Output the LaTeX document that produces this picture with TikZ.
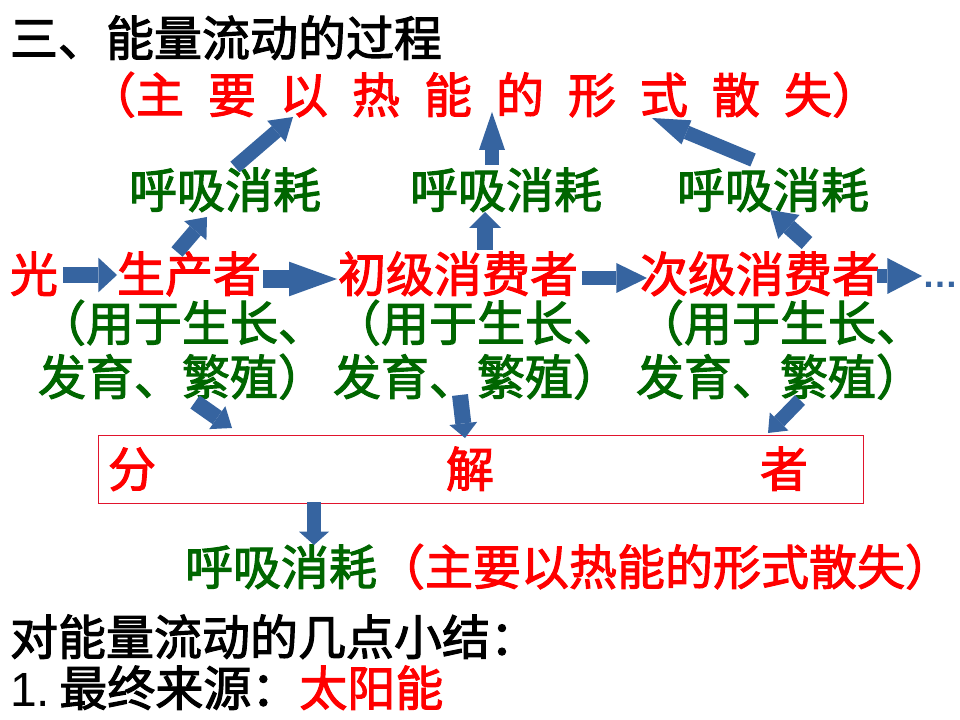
\documentclass[tikz,border=0pt]{standalone}
\usepackage{fontspec}
\setmainfont{Noto Sans CJK SC}[BoldFont=*, BoldFeatures={FakeBold=2.2}]
\newfontfamily\latinfont{Liberation Sans}
\usetikzlibrary{arrows.meta}
\definecolor{cred}{RGB}{255,0,0}
\definecolor{cgreen}{RGB}{0,102,0}
\definecolor{cblue}{RGB}{54,100,160}
\definecolor{cbox}{RGB}{225,20,45}
\tikzset{
  base/.style={inner sep=0pt, outer sep=0pt, font=\fontsize{36pt}{40pt}\selectfont\bfseries},
  ktxt/.style={base, text=black},
  rtxt/.style={base, text=cred},
  gtxt/.style={base, text=cgreen},
  blk/.style n args={3}{draw=cblue, line cap=butt, line width=#1,
    -{Triangle[length=#3, width=#2, line width=0pt]}},
}
\begin{document}
\begin{tikzpicture}[x=0.75pt,y=-0.75pt]
\path[use as bounding box, fill=white] (0,0) rectangle (960,720);

% texts
\node[ktxt, anchor=base west] (title) at (10,56) {三、能量流动的过程};
\node[rtxt, anchor=base west] (heat) at (88,113) {\spaceskip=18pt\relax（主 要 以 热 能 的 形 式 散 失）};

\node[gtxt, anchor=base] (resp1) at (225,208) {呼吸消耗};
\node[gtxt, anchor=base] (resp2) at (506,208) {呼吸消耗};
\node[gtxt, anchor=base] (resp3) at (773,208) {呼吸消耗};

\node[rtxt, anchor=base] (light) at (34,292) {光};
\node[rtxt, anchor=base] (prod) at (189,292) {生产者};
\node[rtxt, anchor=base] (cons1) at (458,292) {初级消费者};
\node[rtxt, anchor=base] (cons2) at (760,292) {次级消费者};
\node[anchor=base west, inner sep=0pt, text=cblue, font=\latinfont\bfseries\fontsize{27pt}{30pt}\selectfont] (more) at (922,287) {…};

\node[gtxt, anchor=base west] (use1a) at (38,341) {（用于生长、};
\node[gtxt, anchor=base west] (use1b) at (38,395) {发育、繁殖）};
\node[gtxt, anchor=base west] (use2a) at (333,341) {（用于生长、};
\node[gtxt, anchor=base west] (use2b) at (333,395) {发育、繁殖）};
\node[gtxt, anchor=base west] (use3a) at (636,341) {（用于生长、};
\node[gtxt, anchor=base west] (use3b) at (636,395) {发育、繁殖）};

\node[draw=cbox, line width=1.1pt, inner sep=0pt, anchor=north west,
      minimum width=573.75pt, minimum height=51pt] (dbox) at (98,435) {};
\node[rtxt, anchor=base west] (decomp) at (108,487) {分\hspace{217.5pt}解\hspace{199.5pt}者};

\node[gtxt, anchor=base west] (resp4) at (185,585) {呼吸消耗\textcolor{cred}{（主要以热能的形式散失）}};

\node[ktxt, anchor=base west] (sum) at (10,655) {对能量流动的几点小结：};
\node[ktxt, anchor=base west] (src) at (10,706) {{\latinfont\mdseries 1.}\hspace{7pt}最终来源：\textcolor{cred}{太阳能}};

% arrow end points
\coordinate (h1s) at (63,275);  \coordinate (h1e) at (117,275);
\coordinate (h2s) at (263,279); \coordinate (h2e) at (337,279);
\coordinate (h3s) at (582,278); \coordinate (h3e) at (647,278);
\coordinate (h4s) at (877,276); \coordinate (h4e) at (922,276);
\coordinate (u1s) at (177,252); \coordinate (u1e) at (207,217);
\coordinate (u2s) at (235,167); \coordinate (u2e) at (293,117);
\coordinate (u3s) at (485,250); \coordinate (u3e) at (485,212);
\coordinate (u4s) at (492,165); \coordinate (u4e) at (492,112);
\coordinate (u5s) at (807,243); \coordinate (u5e) at (770,210);
\coordinate (u6s) at (753,160); \coordinate (u6e) at (652,118);
\coordinate (d1s) at (195,402); \coordinate (d1e) at (232,428);
\coordinate (d2s) at (460,395); \coordinate (d2e) at (465,438);
\coordinate (d3s) at (800,400); \coordinate (d3e) at (768,433);
\coordinate (d4s) at (314,502); \coordinate (d4e) at (314,545);

% block arrows
\draw[blk={12pt}{26pt}{14pt}] (h1s) -- (h1e);
\draw[blk={13pt}{26pt}{36pt}] (h2s) -- (h2e);
\draw[blk={10.5pt}{22.5pt}{23pt}] (h3s) -- (h3e);
\draw[blk={11pt}{27pt}{26pt}] (h4s) -- (h4e);
\draw[blk={11pt}{22pt}{13.5pt}] (u1s) -- (u1e);
\draw[blk={10.5pt}{21pt}{16.5pt}] (u2s) -- (u2e);
\draw[blk={12pt}{24pt}{12pt}] (u3s) -- (u3e);
\draw[blk={10.5pt}{19.5pt}{28.5pt}] (u4s) -- (u4e);
\draw[blk={12pt}{24pt}{19pt}] (u5s) -- (u5e);
\draw[blk={10.5pt}{19.5pt}{28pt}] (u6s) -- (u6e);
\draw[blk={12pt}{21pt}{13.5pt}] (d1s) -- (d1e);
\draw[blk={12pt}{21pt}{11pt}] (d2s) -- (d2e);
\draw[blk={10.5pt}{19.5pt}{12pt}] (d3s) -- (d3e);
\draw[blk={11pt}{22.5pt}{10pt}] (d4s) -- (d4e);
\end{tikzpicture}
\end{document}
